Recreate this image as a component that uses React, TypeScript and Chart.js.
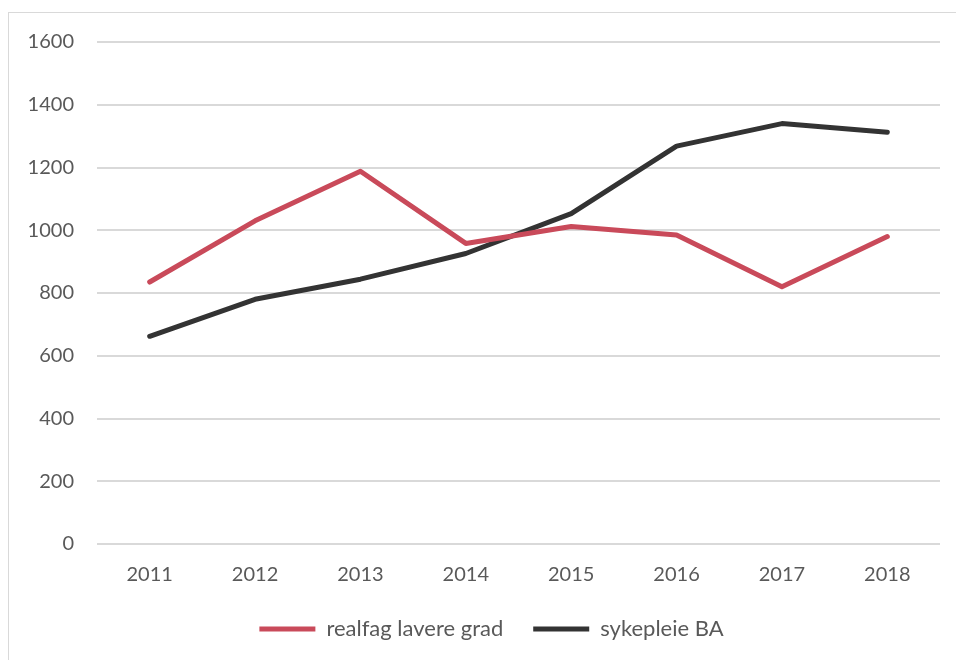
import React, { useEffect, useRef } from "react";
import { Chart, registerables } from "chart.js";

Chart.register(...registerables);

const years = ["2011", "2012", "2013", "2014", "2015", "2016", "2017", "2018"];
const realfag = [835, 1030, 1188, 958, 1012, 985, 820, 980];
const sykepleie = [662, 780, 844, 926, 1053, 1268, 1340, 1312];
const yTicks = [0, 200, 400, 600, 800, 1000, 1200, 1400, 1600];

const FONT = "Lato, 'Liberation Sans', sans-serif";

const legendShift = {
  id: "legendShift",
  afterLayout(chart: any) {
    if (chart.legend) {
      chart.legend.left += 17;
      chart.legend.right += 17;
    }
  },
};

export default function App() {
  const ref = useRef<HTMLCanvasElement | null>(null);

  useEffect(() => {
    if (!ref.current) return;
    const chart = new Chart(ref.current, {
      type: "line",
      data: {
        labels: years,
        datasets: [
          {
            label: "realfag lavere grad",
            data: realfag,
            borderColor: "#C94A5A",
            backgroundColor: "#C94A5A",
            borderWidth: 5,
            pointRadius: 0,
            pointHoverRadius: 0,
            borderCapStyle: "round",
            borderJoinStyle: "round",
            tension: 0,
          },
          {
            label: "sykepleie BA",
            data: sykepleie,
            borderColor: "#333333",
            backgroundColor: "#333333",
            borderWidth: 5,
            pointRadius: 0,
            pointHoverRadius: 0,
            borderCapStyle: "round",
            borderJoinStyle: "round",
            tension: 0,
          },
        ],
      },
      options: {
        animation: false,
        responsive: false,
        devicePixelRatio: 1,
        layout: { padding: { left: 0, right: 16, top: 29, bottom: 10 } },
        plugins: {
          tooltip: { enabled: false },
          legend: {
            position: "bottom",
            labels: {
              usePointStyle: true,
              pointStyle: "line",
              pointStyleWidth: 56,
              color: "#595959",
              font: { family: FONT, size: 22 },
              padding: 30,
            },
          },
        },
        scales: {
          x: {
            offset: true,
            grid: { display: false, drawTicks: false },
            border: { display: false },
            ticks: {
              color: "#595959",
              font: { family: FONT, size: 20 },
              padding: 19,
              maxRotation: 0,
            },
            afterFit: (scale: any) => {
              scale.height = 44;
            },
          },
          y: {
            min: 0,
            max: 1600,
            afterBuildTicks: (scale: any) => {
              scale.ticks = yTicks.map((v) => ({ value: v }));
            },
            grid: { color: "#D9D9D9", lineWidth: 2, drawTicks: false },
            border: { display: false },
            ticks: {
              color: "#595959",
              font: { family: FONT, size: 20 },
              padding: 23,
              callback: (v: any) => String(v),
            },
            afterFit: (scale: any) => {
              scale.width = 88;
              scale.paddingTop = 0;
              scale.paddingBottom = 0;
            },
          },
        },
      },
      plugins: [legendShift],
    });
    return () => chart.destroy();
  }, []);

  return (
    <div
      style={{
        position: "fixed",
        left: 8,
        top: 12,
        width: 948,
        height: 648,
        borderLeft: "1px solid #D9D9D9",
        borderTop: "1px solid #D9D9D9",
        boxSizing: "border-box",
        background: "#fff",
      }}
    >
      <canvas
        ref={ref}
        width={947}
        height={647}
        style={{ position: "absolute", left: 0, top: 0, width: 947, height: 647 }}
      />
    </div>
  );
}
